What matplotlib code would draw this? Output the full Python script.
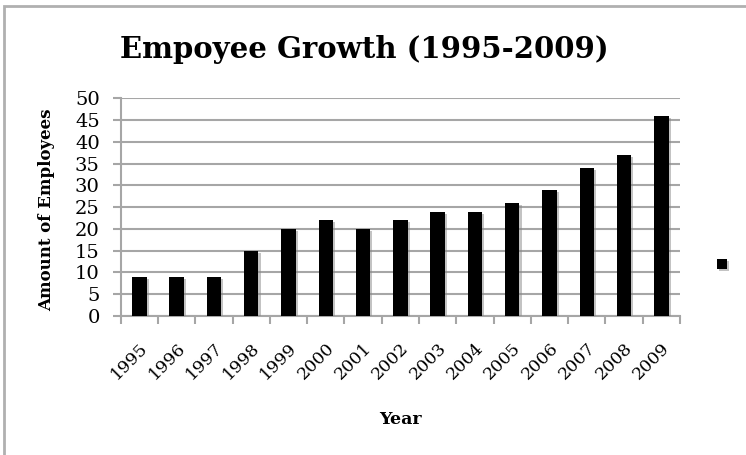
import matplotlib
matplotlib.use("Agg")
import matplotlib.pyplot as plt
import matplotlib.patheffects as pe
from matplotlib.patches import Rectangle
from matplotlib.transforms import ScaledTranslation
import numpy as np

years = ["1995", "1996", "1997", "1998", "1999", "2000", "2001", "2002",
         "2003", "2004", "2005", "2006", "2007", "2008", "2009"]
employees = [9, 9, 9, 15, 20, 22, 20, 22, 24, 24, 26, 29, 34, 37, 46]
y_ticks = list(range(0, 51, 5))

plt.rcParams['font.family'] = ['DejaVu Serif']
grid_col = "#a6a6a6"

W, H = 746, 455
fig = plt.figure(figsize=(W / 100, H / 100), dpi=100)
fig.patch.set_facecolor("white")

# outer chart border (only top and left are visible)
fig.add_artist(Rectangle((4 / W, -0.1), 1.2, (H - 6) / H + 0.1, transform=fig.transFigure,
                         fill=False, edgecolor="#b0b0b0", linewidth=2))

ax = fig.add_axes([120.7 / W, 1 - 316 / H, (680 - 120.7) / W, (316 - 98.3) / H])
x = np.arange(len(years))
bars = ax.bar(x, employees, width=0.39, color="black", zorder=3)
for b in bars:
    b.set_path_effects([pe.SimplePatchShadow(offset=(1.5, -1.5), shadow_rgbFace="#888888", alpha=0.5),
                        pe.Normal()])

ax.set_xlim(-0.5, len(years) - 0.5)
ax.set_ylim(0, 50)
ax.set_yticks(y_ticks)
ax.yaxis.grid(True, color=grid_col, linewidth=1.5, zorder=0)
ax.set_axisbelow(True)

ax.set_xticks(np.arange(len(years) + 1) - 0.5, minor=False)
ax.set_xticklabels([])
ax.set_xticks(x, minor=True)
ax.set_xticklabels(years, minor=True, rotation=45, ha="right", rotation_mode="anchor",
                   fontsize=12.5)
shift = ScaledTranslation(-5 / 100, 0, fig.dpi_scale_trans)
for lbl in ax.get_xticklabels(minor=True):
    lbl.set_transform(lbl.get_transform() + shift)
ax.tick_params(axis="x", which="major", length=6, width=1.5, color=grid_col)
ax.tick_params(axis="x", which="minor", length=0, pad=17)
ax.tick_params(axis="y", length=6, width=1.5, color=grid_col, labelsize=14, pad=9)

for s in ["top", "right"]:
    ax.spines[s].set_visible(False)
for s in ["left", "bottom"]:
    ax.spines[s].set_color(grid_col)
    ax.spines[s].set_linewidth(1.5)

fig.text(364 / W, 1 - 49 / H, "Empoyee Growth (1995-2009)", ha="center", va="center",
         fontsize=21, fontweight="bold")
fig.text(47 / W, 1 - 210 / H, "Amount of Employees", ha="center", va="center",
         rotation=90, fontsize=12, fontweight="bold")
fig.text(400 / W, 1 - 420 / H, "Year", ha="center", va="center",
         fontsize=12.5, fontweight="bold")

ax.legend([bars], [""], loc="center", bbox_to_anchor=(722 / W, 1 - 265 / H),
          bbox_transform=fig.transFigure, frameon=False,
          handlelength=0.7, handleheight=0.7, handletextpad=0)

fig.savefig("out.png", dpi=100)
